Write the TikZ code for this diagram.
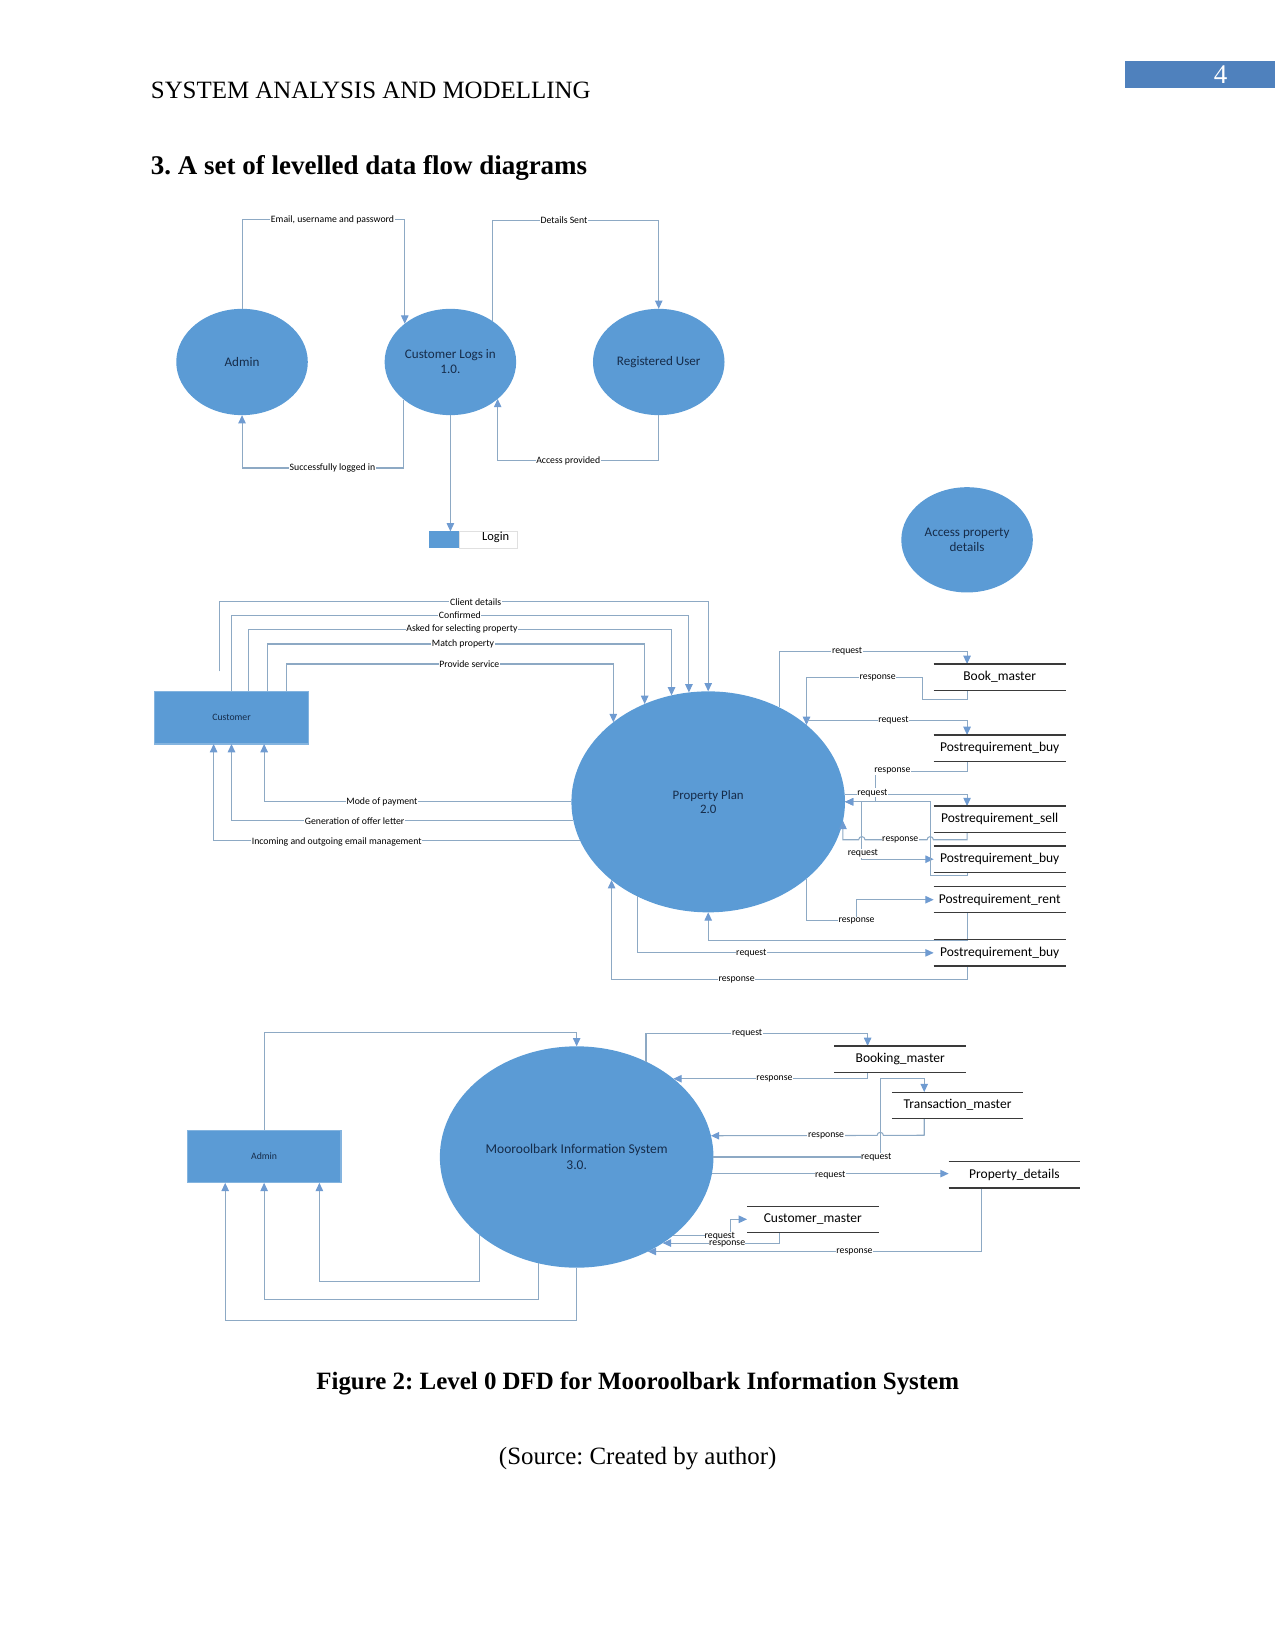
\documentclass[tikz,border=0pt]{standalone}
\usepackage{fontspec}
\setmainfont{Liberation Serif}
\newfontfamily\dgfont{Carlito}
\usetikzlibrary{arrows.meta,calc,shapes.geometric}
\definecolor{bub}{HTML}{5B9BD5}
\definecolor{hdr}{HTML}{4F81BD}
\definecolor{lnc}{HTML}{8DA9C4}
\definecolor{tipc}{HTML}{6F9BD1}
\definecolor{navy}{HTML}{162C4A}
\definecolor{stl}{HTML}{3A3A3A}
\frenchspacing
\begin{document}
\begin{tikzpicture}[x=0.5068pt,y=-0.5068pt,
  bubble/.style={ellipse,fill=bub,inner sep=0pt,outer sep=0pt,text=navy,align=center,font=\dgfont\fontsize{6.3}{7.2}\selectfont},
  smallbub/.style={bubble,minimum width=63.35pt,minimum height=51.19pt},
  bigbub/.style={bubble,minimum width=131.77pt,minimum height=106.6pt,font=\dgfont\fontsize{6.2}{7}\selectfont},
  ent/.style={rectangle,fill=bub,draw=bub!75!white,line width=0.6pt,inner sep=0pt,outer sep=0pt,minimum width=74pt,minimum height=25.34pt,text=navy,font=\dgfont\fontsize{4.7}{5.5}\selectfont},
  store/.style={rectangle,inner sep=0pt,outer sep=0pt,minimum width=63.6pt,minimum height=12.67pt,font=\dgfont\fontsize{6.5}{7.2}\selectfont},
  stline/.style={draw=stl,line width=0.55pt},
  flow/.style={draw=lnc,line width=0.5pt,-{Triangle[length=4pt,width=3.6pt,color=tipc]}},
  lbl/.style={fill=white,inner sep=0.3pt,font=\dgfont\fontsize{4.7}{5.2}\selectfont}]
\useasboundingbox (0,0) rectangle (1212,1568);
% header
\node[fill=hdr,inner sep=0pt,outer sep=0pt,minimum width=72.47pt,minimum height=13.18pt,anchor=north west] (PG) at (1069,58) {};
\node[text=white,font=\fontsize{13}{15}\selectfont] (PGN) at (1160,71) {4};
\node[anchor=west,inner sep=0pt,font=\fontsize{12}{14}\selectfont] (HD) at (143,86) {SYSTEM ANALYSIS AND MODELLING};
\node[anchor=west,inner sep=0pt,font=\bfseries\fontsize{13}{15}\selectfont] (TT) at (143,160) {3. A set of levelled data flow diagrams};

% ---------- diagram 1 ----------
\node[smallbub] (ADM) at (230,344) {Admin};
\node[smallbub] (CL) at (428,344) {Customer Logs in\\1.0.};
\node[smallbub] (RU) at (626,344) {Registered User};
\node[fill=bub,inner sep=0pt,outer sep=0pt,minimum width=14.7pt,minimum height=8.1pt] (LG) at (422.5,513) {};
\node[draw=black!12,inner sep=0pt,outer sep=0pt,minimum width=27.9pt,minimum height=8.1pt] (LGT) at (464.5,513) {};
\node[inner sep=0pt,font=\dgfont\fontsize{6}{7}\selectfont] (LGL) at (471,511) {Login};
\node[smallbub,minimum height=50.7pt] (APD) at (919,513) {Access property\\details};

\draw[flow] (ADM.north) -- ++(0,-85) -| (CL.140.8);
\draw[flow] (CL.219.2) -- ++(0,65) -| (ADM.south);
\draw[flow] (CL.44.1) -- ++(0,-96) -| (RU.north);
\draw[flow] (RU.south) -- ++(0,43) -| (CL.322.1);
\draw[flow] (CL.south) -- (CL.south |- LG.north);
\node[lbl] (l1) at (316,209) {Email, username and password};
\node[lbl] (l2) at (536,209) {Details Sent};
\node[lbl] (l3) at (316,445) {Successfully logged in};
\node[lbl] (l4) at (540,438) {Access provided};

% ---------- diagram 2 ----------
\node[ent] (CU) at (220,682) {Customer};
\node[bigbub,minimum height=106.43pt] (PP) at (673,762) {Property Plan\\2.0};
\node[store] (BM) at (950,643.5) {Book\_master};
\node[store] (PB1) at (950,711) {Postrequirement\_buy};
\node[store] (PS) at (950,778.5) {Postrequirement\_sell};
\node[store] (PB2) at (950,816.5) {Postrequirement\_buy};
\node[store] (PR) at (950,855) {Postrequirement\_rent};
\node[store] (PB3) at (950,905.5) {Postrequirement\_buy};
\coordinate (CD) at (209,638);

\draw[flow] (CD) -- ++(0,-66) -| (PP.north);
\draw[flow] (CU.north) -- ++(0,-72) -| (PP.100.36);
\draw[flow] ($(CU.north)+(16,0)$) -- ++(0,-59) -| (PP.109.64);
\draw[flow] ($(CU.north)+(34,0)$) -- ++(0,-45) -| (PP.123.89);
\draw[flow] ($(CU.north)+(52,0)$) -- ++(0,-26) -| (PP.140.5);
\draw[flow] (PP.west) -| ($(CU.south)+(31,0)$);
\draw[flow] (PP.188) -| (CU.south);
\draw[flow] (PP.197.41) -| ($(CU.south)+(-17,0)$);
\node[lbl] (m1) at (452,572) {Client details};
\node[lbl] (m2) at (437,585) {Confirmed};
\node[lbl] (m3) at (439,598) {Asked for selecting property};
\node[lbl] (m4) at (440,612) {Match property};
\node[lbl] (m5) at (446,631) {Provide service};
\node[lbl] (m6) at (363,762) {Mode of payment};
\node[lbl] (m7) at (337,780) {Generation of offer letter};
\node[lbl] (m8) at (320,800) {Incoming and outgoing email management};

\draw[flow] (PP.53.9) -- ++(0,-53) -| ($(BM.north)+(-31,0)$);
\draw[flow] ($(BM.south)+(-31,0)$) -- ++(0,8.8) -| (876.7,644) -| (PP.38.9);
\draw[flow] ($(PP.38.9)+(0,-4)$) -| ($(PB1.north)+(-31,0)$);
\draw[flow] ($(PB1.south)+(-31,0)$) -- ++(0,9.6) -| (832,762) -- (PP.east);
\draw[flow] (PP.3.75) -| ($(PS.north)+(-31,0)$);
\draw[flow] ($(PS.south)+(-31,0)$) -- ++(0,7) -- (887,798) arc[start angle=0,end angle=180,radius=1.52pt] -- (822,798) arc[start angle=0,end angle=180,radius=1.52pt] -| (PP.-8.1);
\draw[flow] (PP.east) -- (819,762) |- (PB2.west);
\draw[flow] ($(PB2.south)+(-31,0)$) -- ++(0,3) -| (884,762) -- (PP.east);
\draw[flow] (PP.-38.9) |- (814,875) |- (PR.west);
\draw[flow] ($(PR.south)+(-31,0)$) -- ++(0,26) -| (PP.south);
\draw[flow] (PP.-127.2) |- (PB3.west);
\draw[flow] ($(PB3.south)+(-31,0)$) -- ++(0,13) -| (PP.219.5);
\node[lbl] (r1) at (805,618.5) {request};
\node[lbl] (r2) at (834,644) {response};
\node[lbl] (r3) at (849,684) {request};
\node[lbl] (r4) at (848,732.6) {response};
\node[lbl] (r5) at (829,753.5) {request};
\node[lbl] (r6) at (855.5,798) {response};
\node[lbl] (r7) at (820,811) {request};
\node[lbl] (r8) at (814,875) {response};
\node[lbl] (r9) at (714,905.5) {request};
\node[lbl] (r10) at (700,931) {response};

% ---------- diagram 3 ----------
\node[ent] (A2) at (251,1099) {Admin};
\node[bigbub,font=\dgfont\fontsize{6.5}{7.4}\selectfont] (MIS) at (548,1099.5) {Mooroolbark Information System\\3.0.};
\node[store,minimum width=63.35pt] (BK) at (855.5,1006.5) {Booking\_master};
\node[store,minimum width=63.35pt] (TM) at (910,1050.3) {Transaction\_master};
\node[store,minimum width=63.35pt] (PD) at (964,1116.5) {Property\_details};
\node[store,minimum width=63.35pt] (CM) at (772.4,1158.7) {Customer\_master};

\draw[flow] (A2.north) -- ++(0,-93) -| (MIS.north);
\draw[flow] (MIS.219) -- ++(0,44) -| ($(A2.south)+(52.5,0)$);
\draw[flow] (MIS.250.45) -- ++(0,34.5) -| (A2.south);
\draw[flow] (MIS.south) -- ++(0,50) -| ($(A2.south)+(-37,0)$);

\draw[flow] (MIS.54.6) -- ++(0,-26.6) -| ($(BK.north)+(-31,0)$);
\draw[flow] ($(BK.south)+(-31,0)$) |- (MIS.39);
\draw[flow] (MIS.east) -| (836.5,1025) -| ($(TM.north)+(-31.7,0)$);
\draw[flow] ($(TM.south)+(-31.7,0)$) -- ++(0,16) -- (839.5,1079) arc[start angle=0,end angle=180,radius=1.52pt] -- (MIS.9.13);
\draw[flow] (MIS.-7.55) -- (MIS.-7.55 -| PD.west);
\draw[flow] ($(PD.south)+(-31,0)$) |- (MIS.-53.57);
\draw[flow] (MIS.-39.44) -| (694.6,1158.7) -- (CM.west);
\draw[flow] ($(CM.south)+(-32,0)$) |- (MIS.-45.52);
\node[lbl] (s1) at (710,981.5) {request};
\node[lbl] (s2) at (736,1025) {response};
\node[lbl] (s3) at (785,1079) {response};
\node[lbl] (s4) at (832.7,1099.5) {request};
\node[lbl] (s5) at (789,1116.5) {request};
\node[lbl] (s6) at (812,1190) {response};
\node[lbl,inner sep=0pt] (s7) at (684,1174.6) {request};
\node[lbl,inner sep=0pt] (s8) at (691,1182) {response};

\foreach \s in {BM,PB1,PS,PB2,PR,PB3,BK,TM,PD,CM}
  \draw[stline] (\s.north west) -- (\s.north east) (\s.south west) -- (\s.south east);

% caption
\node[font=\bfseries\fontsize{12}{14}\selectfont] (CAP) at (606,1315) {Figure 2: Level 0 DFD for Mooroolbark Information System};
\node[font=\fontsize{12}{14}\selectfont] (SRC) at (606,1386) {(Source: Created by author)};
\end{tikzpicture}
\end{document}
